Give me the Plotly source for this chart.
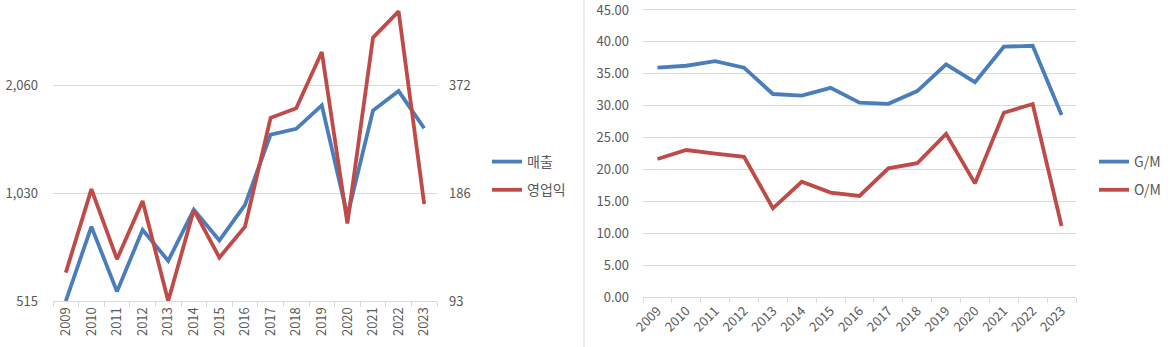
import math
import plotly.graph_objects as go

years = [str(y) for y in range(2009, 2024)]

sales = [515, 831, 547, 814, 667, 926, 760, 956, 1502, 1558, 1811, 891, 1753, 1986, 1564]
op_profit = [111.6, 191, 121.7, 177, 93, 167, 123, 150, 302, 321, 461, 153, 506, 599, 173.5]

gm = [35.96, 36.27, 37.0, 35.96, 31.84, 31.6, 32.8, 30.5, 30.3, 32.3, 36.5, 33.7, 39.25, 39.4, 28.55]
om = [21.66, 23.07, 22.5, 22.0, 13.94, 18.1, 16.4, 15.87, 20.2, 21.0, 25.6, 17.85, 28.9, 30.27, 11.17]

left_ticks = [515, 1030, 2060]
left_ticktext = ["515", "1,030", "2,060"]
right_ticks = [93, 186, 372]
right_ticktext = ["93", "186", "372"]
pct_ticks = [0, 5, 10, 15, 20, 25, 30, 35, 40, 45]

W, H = 1172, 347
BLUE = "#4A7EBB"
RED = "#BE4B48"
GRID = "#D9D9D9"
TXT = "#595959"
FONT = "Noto Sans CJK KR"
FS = 13

px_per_doubling = 107.8
left_bottom_px = 301
left_top_px = 0
span = (left_bottom_px - left_top_px) / px_per_doubling * math.log10(2)

# right chart: 0 at y=297.3, 45 at y=10
r_bottom, r_45 = 297.3, 10.0
r_top_val = 45.4
r_top_px = r_bottom - (r_bottom - r_45) * r_top_val / 45

fig = go.Figure()

fig.add_trace(go.Scatter(x=years, y=sales, name="매출", mode="lines",
                         line=dict(color=BLUE, width=3.8), xaxis="x", yaxis="y",
                         legend="legend", legendgroup="a"))
fig.add_trace(go.Scatter(x=years, y=op_profit, name="영업익", mode="lines",
                         line=dict(color=RED, width=3.8), xaxis="x", yaxis="y2",
                         legend="legend", legendgroup="b"))
fig.add_trace(go.Scatter(x=years, y=gm, name="G/M", mode="lines",
                         line=dict(color=BLUE, width=3.8), xaxis="x2", yaxis="y3",
                         legend="legend2", legendgroup="c"))
fig.add_trace(go.Scatter(x=years, y=om, name="O/M", mode="lines",
                         line=dict(color=RED, width=3.8), xaxis="x2", yaxis="y3",
                         legend="legend2", legendgroup="d"))

def pxx(x):
    return x / W

def pxy(y):
    return 1 - y / H

xcommon = dict(type="category", tickson="boundaries", showgrid=False, showline=True,
               linecolor=GRID, linewidth=1, ticks="outside", ticklen=5, tickcolor=GRID,
               tickfont=dict(family=FONT, size=FS, color=TXT), zeroline=False,
               automargin=False, ticklabeloverflow="allow")

fig.update_layout(
    width=W, height=H,
    margin=dict(l=0, r=0, t=0, b=0),
    paper_bgcolor="white", plot_bgcolor="white",
    font=dict(family=FONT, size=FS, color=TXT),
    xaxis=dict(domain=[pxx(53), pxx(437)], anchor="y", tickangle=-90,
               range=[-0.5, 14.5], **xcommon),
    yaxis=dict(domain=[pxy(left_bottom_px), pxy(left_top_px)], anchor="x", type="log",
               range=[math.log10(515), math.log10(515) + span],
               tickvals=left_ticks, ticktext=left_ticktext, showgrid=True,
               gridcolor=GRID, gridwidth=1, showline=False, ticks="",
               ticklabelstandoff=14, zeroline=False, automargin=False,
               ticklabeloverflow="allow",
               tickfont=dict(family=FONT, size=FS, color=TXT)),
    yaxis2=dict(overlaying="y", anchor="x", side="right", type="log",
                range=[math.log10(93), math.log10(93) + span],
                tickvals=right_ticks, ticktext=right_ticktext, showgrid=False,
                showline=False, ticks="", ticklabelstandoff=11, zeroline=False,
                automargin=False, ticklabeloverflow="allow",
                tickfont=dict(family=FONT, size=FS, color=TXT)),
    xaxis2=dict(domain=[pxx(643), pxx(1076)], anchor="y3", tickangle=-45,
                range=[-0.5, 14.5], **xcommon),
    yaxis3=dict(domain=[pxy(r_bottom), pxy(r_top_px)], anchor="x2",
                range=[0, r_top_val],
                tickvals=pct_ticks,
                tickformat=".2f", showgrid=True, gridcolor=GRID, gridwidth=1,
                showline=False, ticks="", ticklabelstandoff=13, zeroline=False,
                automargin=False, ticklabeloverflow="allow",
                tickfont=dict(family=FONT, size=FS, color=TXT)),
    legend=dict(x=pxx(487), y=pxy(146), xanchor="left", yanchor="top",
                font=dict(family=FONT, size=FS + 1, color=TXT), tracegroupgap=7,
                bgcolor="rgba(0,0,0,0)"),
    legend2=dict(x=pxx(1094), y=pxy(146), xanchor="left", yanchor="top",
                 font=dict(family=FONT, size=FS + 1, color=TXT), tracegroupgap=7,
                 bgcolor="rgba(0,0,0,0)"),
    shapes=[dict(type="line", xref="paper", yref="paper", x0=pxx(584), x1=pxx(584),
                 y0=0, y1=1, line=dict(color=GRID, width=1))],
)

fig.write_html("out.html")
